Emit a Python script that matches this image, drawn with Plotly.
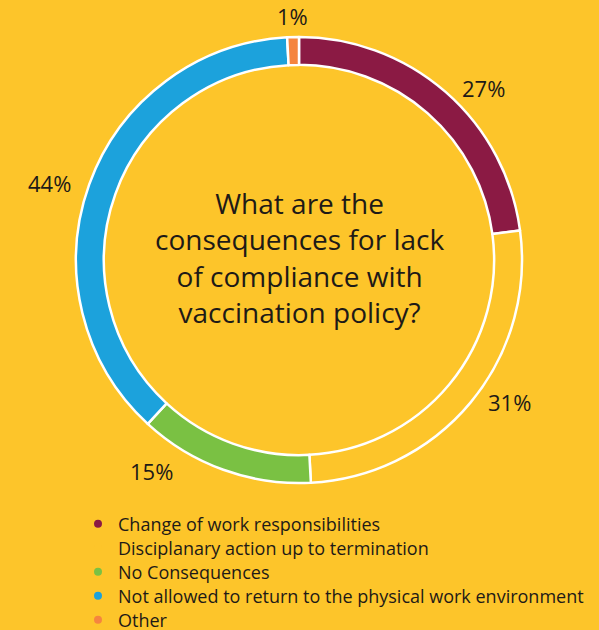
import math
import plotly.graph_objects as go

# ---- data ----
categories = [
    "Change of work responsibilities",
    "Disciplanary action up to termination",
    "No Consequences",
    "Not allowed to return to the physical work environment",
    "Other",
]
values = [27, 31, 15, 44, 1]
pct_labels = ["27%", "31%", "15%", "44%", "1%"]

# ---- style ----
BG = "#FDC52A"
colors = ["#8B1A44", BG, "#7AC143", "#1CA2DC", "#F5853F"]
TEXT = "#1E1A17"
FONT = "Open Sans"

W, H = 599, 630
cx, cy, R = 299, 260, 223  # pixel centre / outer radius of the ring
legend_top, legend_step = 524, 24  # pixel row centres of the legend entries

fig = go.Figure()

fig.add_trace(go.Pie(
    labels=categories,
    values=values,
    sort=False,
    direction="clockwise",
    rotation=0,
    hole=0.875,
    marker=dict(colors=colors, line=dict(color="white", width=2.5)),
    textinfo="none",
    showlegend=False,
    domain=dict(x=[(cx - R) / W, (cx + R) / W], y=[1 - (cy + R) / H, 1 - (cy - R) / H]),
))

# legend entries (circle bullets) via empty scatter traces, one legend per row
legend_layouts = {}
for i, (name, col) in enumerate(zip(categories, colors)):
    lid = "legend" if i == 0 else f"legend{i + 1}"
    fig.add_trace(go.Scatter(
        x=[None], y=[None], mode="markers", name=name, legend=lid,
        marker=dict(symbol="circle", size=8, color=col),
    ))
    legend_layouts[lid] = dict(
        x=78 / W, y=1 - (legend_top + i * legend_step) / H,
        xanchor="left", yanchor="middle",
        bgcolor="rgba(0,0,0,0)",
        font=dict(size=18, color=TEXT, family=FONT),
        itemwidth=30,
    )

# percentage labels placed around the ring, computed from slice angles
label_radius = [1.13, 1.14, 1.16, 1.17, 1.09]
label_shift_deg = [6, -5.5, 15, -3, 0]
total = sum(values)
start = 0.0
annotations = []
for v, txt, rf, sh in zip(values, pct_labels, label_radius, label_shift_deg):
    span = v / total * 360
    mid = math.radians(start + span / 2 + sh)
    start += span
    px = cx + R * rf * math.sin(mid)
    py = cy - R * rf * math.cos(mid) - 1
    annotations.append(dict(
        x=px / W, y=1 - py / H, xref="paper", yref="paper",
        text=txt, showarrow=False, font=dict(size=22, color=TEXT, family=FONT),
        xanchor="center", yanchor="middle",
    ))

annotations.append(dict(
    x=cx / W, y=1 - (cy - 3) / H, xref="paper", yref="paper",
    text="What are the<br>consequences for lack<br>of compliance with<br>vaccination policy?",
    showarrow=False, align="center",
    font=dict(size=28, color=TEXT, family=FONT),
    xanchor="center", yanchor="middle",
))

fig.update_layout(
    width=W, height=H, autosize=False,
    margin=dict(l=0, r=0, t=0, b=0, autoexpand=False),
    paper_bgcolor=BG, plot_bgcolor=BG,
    xaxis=dict(visible=False), yaxis=dict(visible=False),
    annotations=annotations,
    **legend_layouts,
)

fig.write_html(
    "out.html",
    config={"responsive": False, "displayModeBar": False},
    post_script=(
        "document.body.style.margin='0';document.body.style.overflow='hidden';"
        "Plotly.relayout('{plot_id}', {width: 599, height: 630});"
    ),
)
